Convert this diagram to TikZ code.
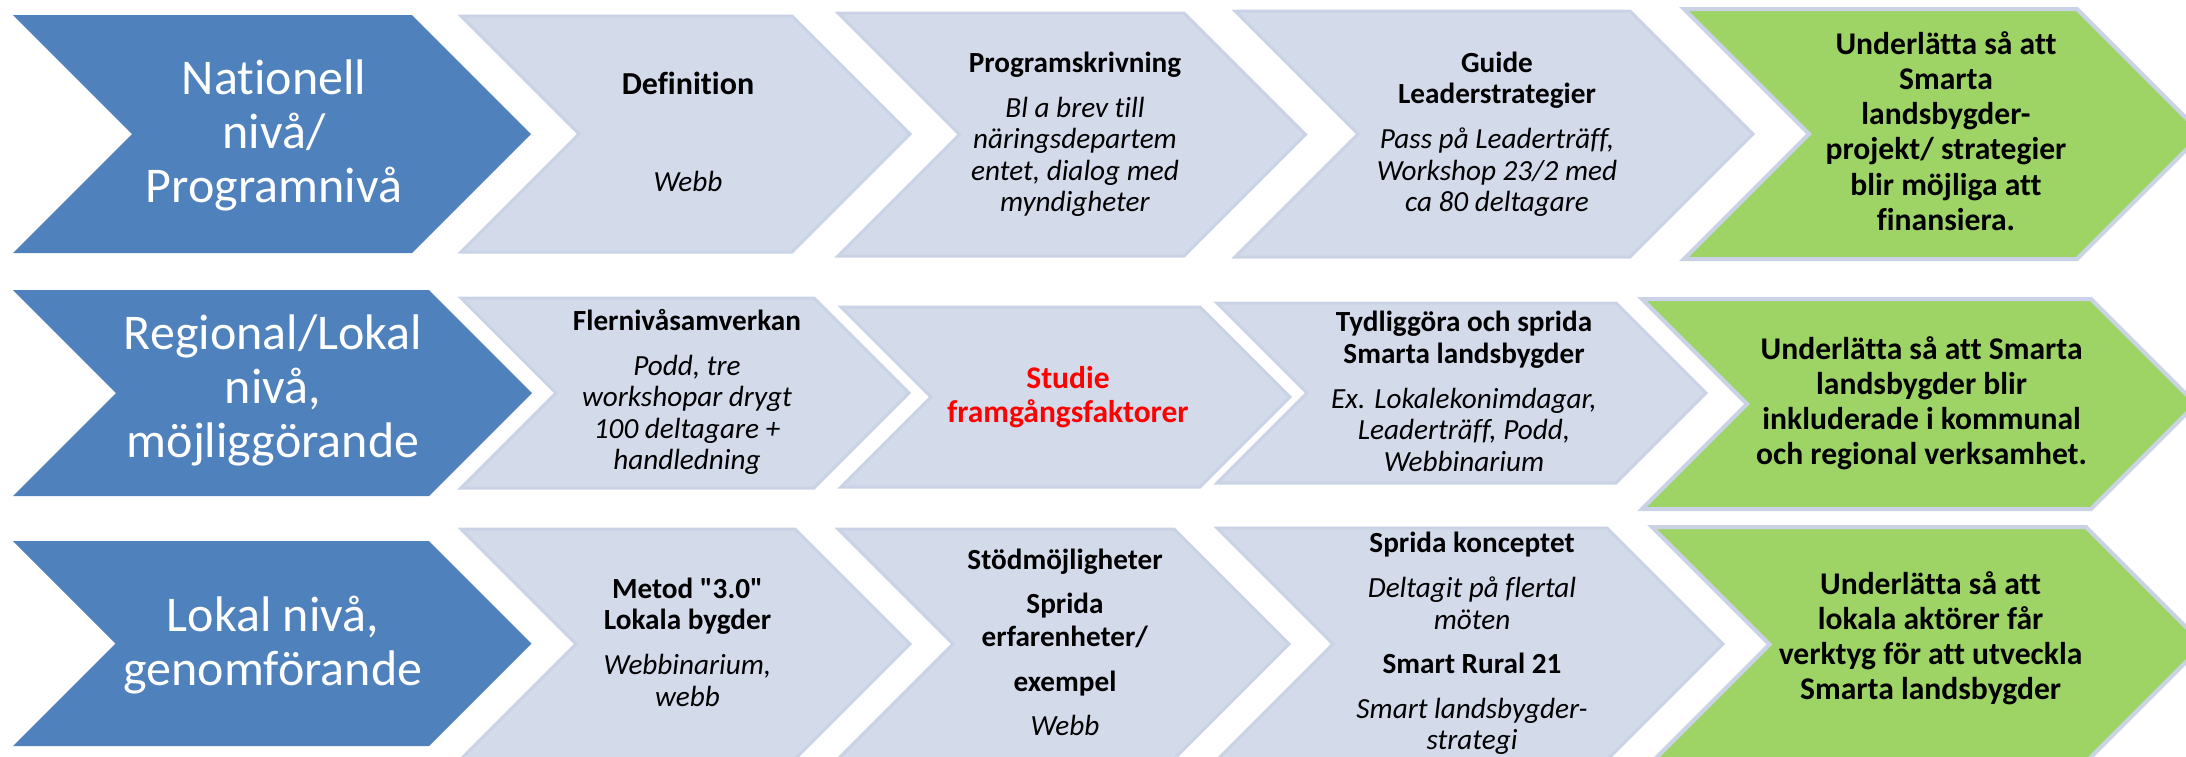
\documentclass[tikz,border=0pt]{standalone}
\usepackage{fontspec}
\setmainfont{Carlito}[Ligatures={TeXOff,NoCommon}]
\definecolor{chevblue}{HTML}{4F81BD}
\definecolor{lightfill}{HTML}{D3DAEA}
\definecolor{lightedge}{HTML}{CAD3E6}
\definecolor{greenfill}{HTML}{9ED366}
\definecolor{studred}{HTML}{FF0000}
% style, left x, top-right x, top y, bottom y
\newcommand\chev[5]{%
  \path[#1] (#2,#4) -- (#3,#4) -- ({#3+(#5-#4)/2},{(#4+#5)/2}) -- (#3,#5)
    -- (#2,#5) -- ({#2+(#5-#4)/2},{(#4+#5)/2}) -- cycle;}
\newcommand\ctext[1]{\begin{tabular}[t]{@{}c@{}}#1\end{tabular}}
\tikzset{
  bluechev/.style={fill=chevblue},
  lightchev/.style={fill=lightfill, draw=lightedge, line width=1.5pt},
  greenchev/.style={fill=greenfill, draw=lightedge, line width=2pt},
  bluetxt/.style={inner sep=0pt, anchor=base, text=white, font=\fontsize{25}{27}\selectfont},
  lighttxt/.style={inner sep=0pt, anchor=base, text=black, font=\fontsize{14.6}{15.75}\selectfont},
  redtxt/.style={inner sep=0pt, anchor=base, text=studred, font=\fontsize{15.75}{17}\selectfont\bfseries},
  greentxt/.style={inner sep=0pt, anchor=base, text=black, font=\fontsize{15.8}{17.65}\selectfont\bfseries},
}
\begin{document}
\begin{tikzpicture}[x=0.5pt, y=-0.5pt]
\useasboundingbox (0,0) rectangle (2186,756);
\fill[white] (0,0) rectangle (2186,756);
\clip (0,0) rectangle (2186,756);
% row 1
\chev{bluechev}{13}{412}{15}{253}
\chev{lightchev}{461}{792}{16}{252}
\chev{lightchev}{838}{1184}{13}{256}
\chev{lightchev}{1235}{1630}{11}{257}
\chev{greenchev}{1684}{2077}{9}{259}
% row 2
\chev{bluechev}{13}{429}{290}{496}
\chev{lightchev}{461}{814}{298}{488}
\chev{lightchev}{841}{1200}{307}{487}
\chev{lightchev}{1217}{1616}{303}{483}
\chev{greenchev}{1642}{2091}{299}{509}
% row 3
\chev{bluechev}{13}{429}{541}{746}
\chev{lightchev}{461}{795}{529}{759}
\chev{lightchev}{838}{1174}{529}{759}
\chev{lightchev}{1217}{1607}{528}{760}
\chev{greenchev}{1652}{2086}{527}{762}
% texts row 1
\node[bluetxt] (nat) at (274,94) {\ctext{Nationell\\nivå/\\Programnivå}};
\node[lighttxt] (def) at (688,94) {\ctext{{\fontsize{16}{16}\selectfont\bfseries Definition}\\[33pt]\textit{Webb}}};
\node[lighttxt] (prog) at (1075,72.3) {\ctext{\textbf{Programskrivning}\\[6.75pt]\textit{Bl a brev till}\\\textit{näringsdepartem}\\\textit{entet, dialog med}\\\textit{myndigheter}}};
\node[lighttxt] (guide) at (1497,72.3) {\ctext{\textbf{Guide}\\\textbf{Leaderstrategier}\\[6.75pt]\textit{Pass på Leaderträff,}\\\textit{Workshop 23/2 med}\\\textit{ca 80 deltagare}}};
\node[greentxt] (g1) at (1946,54) {\ctext{Underlätta så att\\Smarta\\landsbygder-\\projekt/ strategier\\blir möjliga att\\finansiera.}};
% texts row 2
\node[bluetxt] (reg) at (273,349.6) {\ctext{Regional/Lokal\\nivå,\\möjliggörande}};
\node[lighttxt] (fler) at (687,330) {\ctext{\textbf{Flernivåsamverkan}\\[6.75pt]\textit{Podd, tre}\\\textit{workshopar drygt}\\\textit{100 deltagare +}\\\textit{handledning}}};
\node[redtxt] (stud) at (1068,388) {\ctext{Studie\\framgångsfaktorer}};
\node[lighttxt] (tyd) at (1464,331.7) {\ctext{\textbf{Tydliggöra och sprida}\\\textbf{Smarta landsbygder}\\[6.75pt]\textit{Ex. Lokalekonimdagar,}\\\textit{Leaderträff, Podd,}\\\textit{Webbinarium}}};
\node[greentxt] (g2) at (1921.6,359) {\ctext{Underlätta så att Smarta\\landsbygder blir\\inkluderade i kommunal\\och regional verksamhet.}};
% texts row 3
\node[bluetxt] (lok) at (273,631.6) {\ctext{Lokal nivå,\\genomförande}};
\node[lighttxt] (met) at (687.5,598) {\ctext{\textbf{Metod "3.0"}\\\textbf{Lokala bygder}\\[6.75pt]\textit{Webbinarium,}\\\textit{webb}}};
\node[lighttxt] (stod) at (1065,569) {\ctext{\textbf{Stödmöjligheter}\\[6.5pt]\textbf{Sprida}\\[0.75pt]\textbf{erfarenheter/}\\[6.5pt]\textbf{exempel}\\[6.5pt]\textit{Webb}}};
\node[lighttxt] (spr) at (1472,552) {\ctext{\textbf{Sprida konceptet}\\[7pt]\textit{Deltagit på flertal}\\\textit{möten}\\[6.5pt]\textbf{Smart Rural 21}\\[6.5pt]\textit{Smart landsbygder-}\\\textit{strategi}}};
\node[greentxt] (g3) at (1930.6,594) {\ctext{Underlätta så att\\lokala aktörer får\\verktyg för att utveckla\\Smarta landsbygder}};
\end{tikzpicture}
\end{document}
